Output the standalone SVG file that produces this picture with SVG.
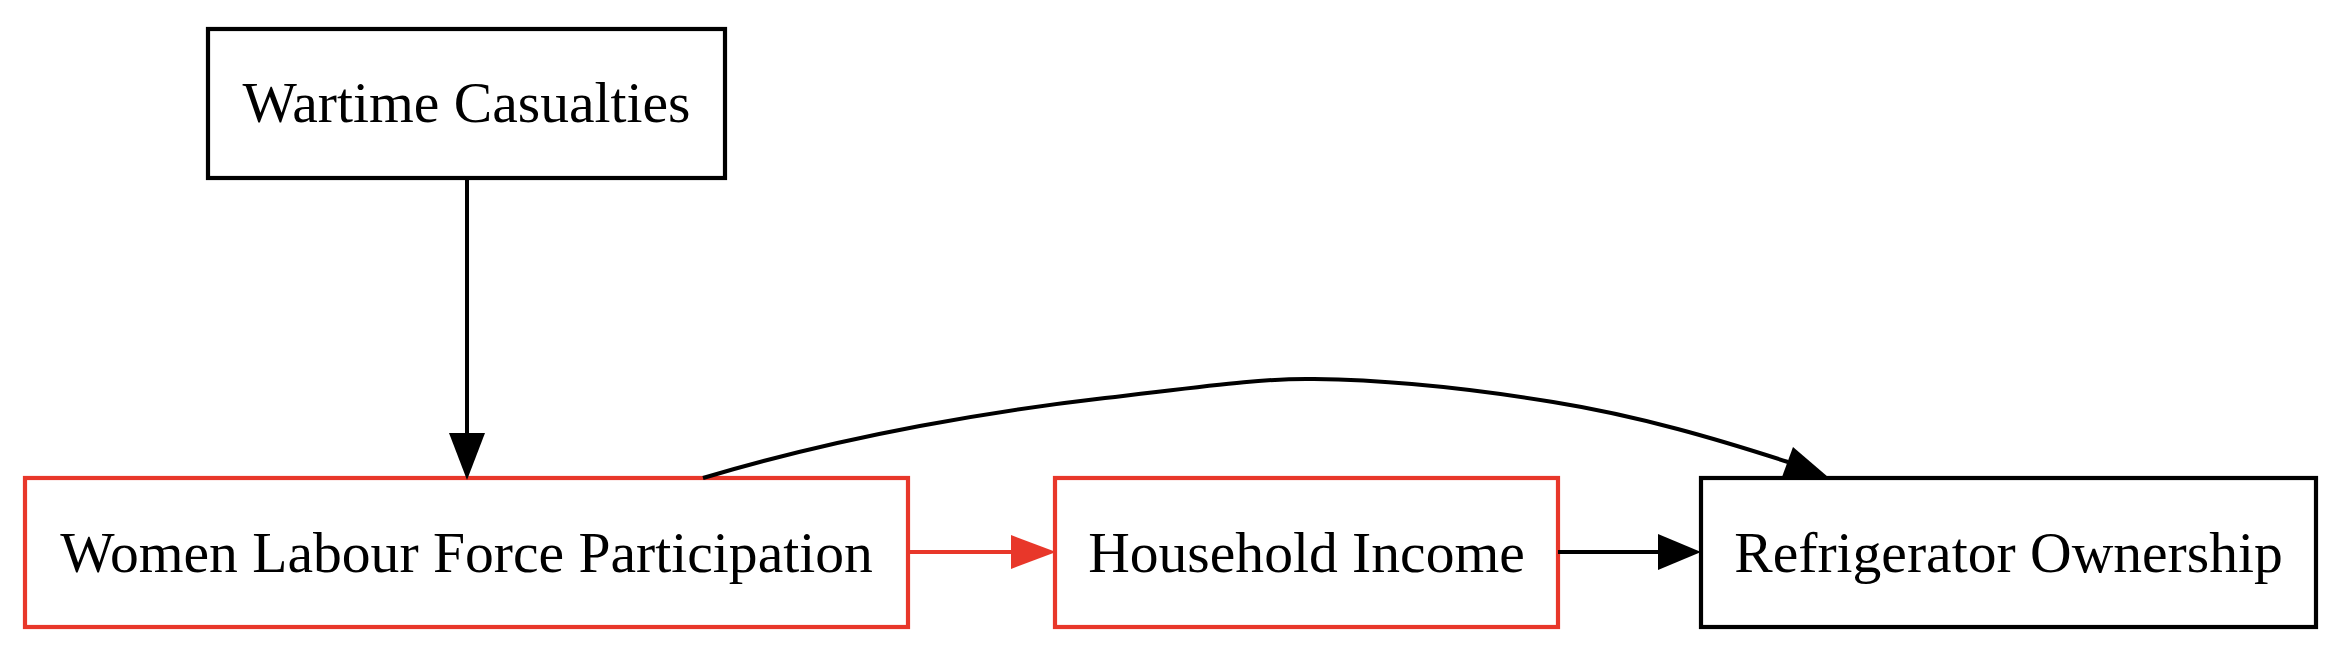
<svg xmlns="http://www.w3.org/2000/svg" width="2342" height="670" viewBox="0 0 2342 670">
<defs>
<style>
.box{fill:#ffffff;stroke-width:4.2}
.blk{stroke:#000000}
.red{stroke:#e8372a}
.lbl{font-family:"Liberation Serif","Times New Roman",serif;font-size:57.6px;fill:#000000;text-anchor:middle}
.edge{fill:none;stroke-width:4}
</style>
</defs>
<rect width="2342" height="670" fill="#ffffff"/>
<g id="wartime">
<rect class="box blk" x="208" y="29" width="517" height="149"/>
<text class="lbl" x="466.5" y="122">Wartime Casualties</text>
</g>
<g id="wlfp">
<rect class="box red" x="25" y="478" width="883" height="149"/>
<text class="lbl" x="466.5" y="572">Women Labour Force Participation</text>
</g>
<g id="income">
<rect class="box red" x="1055" y="478" width="503" height="149"/>
<text class="lbl" x="1306.5" y="572">Household Income</text>
</g>
<g id="fridge">
<rect class="box blk" x="1701" y="478" width="615" height="149"/>
<text class="lbl" x="2008.5" y="572">Refrigerator Ownership</text>
</g>
<g id="connectors">
<path class="edge blk" d="M467,178 L467,435"/>
<polygon fill="#000000" points="449,433 485,433 467,480"/>
<path class="edge red" d="M908,552 L1013,552"/>
<polygon fill="#e8372a" points="1011,535 1011,569 1056,552"/>
<path class="edge blk" d="M1558,552 L1660,552"/>
<polygon fill="#000000" points="1658,534 1658,570 1701,552"/>
<path class="edge blk" d="M703,478 C850,434 1000,410 1105,398 C1200,387 1260,378 1314,379 C1400,380 1480,390 1553,402 C1640,416 1720,440 1788,462"/>
<polygon fill="#000000" points="1793,447 1782,477 1828,477"/>
</g>
</svg>
